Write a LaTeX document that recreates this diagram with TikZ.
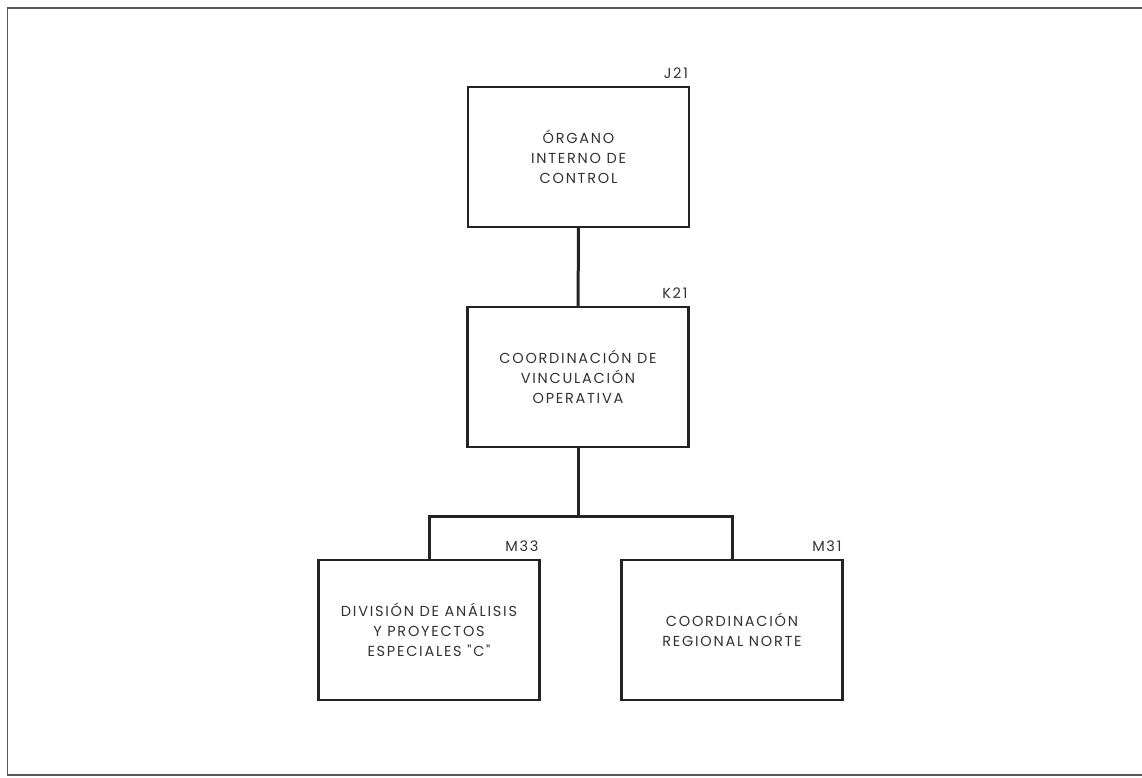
\documentclass[tikz,border=0pt]{standalone}
\usepackage{fontspec}
\usepackage{tikz}
\usetikzlibrary{positioning}
\newfontfamily\orgfont[LetterSpace=12]{Poppins}
\definecolor{orgline}{RGB}{35,35,35}
\definecolor{orgtext}{RGB}{50,50,50}

\begin{document}
\begin{tikzpicture}[x=1pt, y=-1pt,
      unit/.style={draw=orgline, line width=2.2pt, minimum width=221pt, minimum height=140pt,
        align=center, inner sep=0pt, text=orgtext, font=\orgfont\fontsize{14.5}{20}\selectfont},
      code/.style={anchor=south east, inner sep=0pt, text=orgtext, font=\orgfont\fontsize{14.5}{16}\selectfont},
      link/.style={draw=orgline, line width=3pt}]
    \useasboundingbox (0,0) rectangle (1142,777);
    % outer frame, open on the right
    \draw[draw=black!65, line width=1.6pt] (1142,8) -- (7.5,8) -- (7.5,775) -- (1142,775);
    % units
    \node[unit] (oic) at (578.5,157) {ÓRGANO\\INTERNO DE\\CONTROL};
    \node[code] at ([xshift=-2pt,yshift=7pt]oic.north east) {J21};
    \node[unit] (cvo) at (578,377) {COORDINACIÓN DE\\VINCULACIÓN\\OPERATIVA};
    \node[code] at ([xshift=-2pt,yshift=7pt]cvo.north east) {K21};
    \node[unit] (dape) at (429,630) {DIVISIÓN DE ANÁLISIS\\Y PROYECTOS\\ESPECIALES "C"};
    \node[code] at ([xshift=-2pt,yshift=7pt]dape.north east) {M33};
    \node[unit] (crn) at (732,630) {COORDINACIÓN\\REGIONAL NORTE};
    \node[code] at ([xshift=-2pt,yshift=7pt]crn.north east) {M31};
    % connectors
    \coordinate (bus) at (cvo.south |- 0,516);
    \draw[link] (oic) -- (cvo);
    \draw[link] (cvo) -- (bus);
    \draw[link] (dape.north) |- (bus) -| (crn.north);
  \end{tikzpicture}
\end{document}
